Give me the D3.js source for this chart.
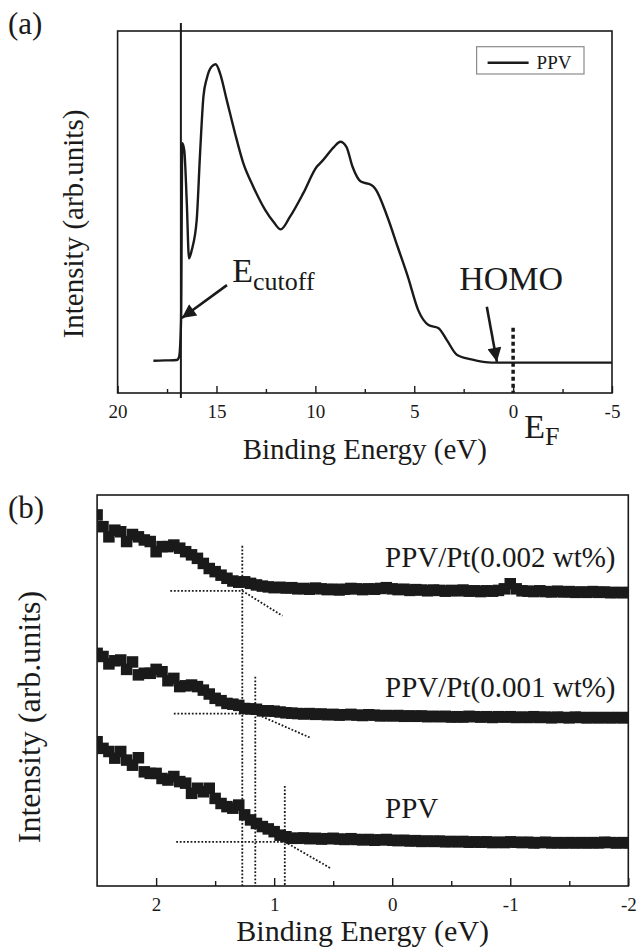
<!DOCTYPE html>
<html>
<head>
<meta charset="utf-8">
<script src="https://cdn.jsdelivr.net/npm/d3@7"></script>
<style>
  body { margin: 0; background: #fff; }
  text { font-family: "Liberation Serif", "DejaVu Serif", serif; fill: #1a1a1a; }
</style>
</head>
<body>
<svg id="fig" width="643" height="950"></svg>
<script>
// ---- data, panel (a): full UPS spectrum of PPV
var energyA = [18.19, 17.6, 17.01, 16.89, 16.79, 16.73, 16.63, 16.5, 16.39, 16.25, 16.0, 15.83, 15.66, 15.49, 15.24, 15.04,
  14.82, 14.48, 14.06, 13.64, 13.14, 12.54, 12.12, 11.75, 11.28, 10.61, 9.93, 9.68, 9.05, 8.74, 8.43, 8.12, 7.7, 7.19,
  6.98, 6.36, 5.84, 5.32, 4.8, 4.28, 3.77, 3.35, 2.83, 2.11, 1.07, -5.0];
var intensityA = [8.9, 9.0, 9.1, 10.0, 20.2, 69.0, 67.1, 52.4, 37.2, 39.5, 47.8, 66.2, 81.9, 86.9, 90.2, 90.8,
  88.3, 80.9, 71.7, 63.4, 57.0, 50.6, 47.3, 45.2, 48.7, 55.2, 62.5, 63.9, 68.0, 69.4, 68.0, 62.5, 58.4, 57.5,
  56.5, 48.7, 40.4, 32.1, 22.9, 18.8, 17.9, 14.6, 10.5, 9.3, 8.4, 8.4];
var ticksA = [20, 15, 10, 5, 0, -5];
var minorA = [17.5, 12.5, 7.5, 2.5, -2.5];
var cutoffEnergy = 16.8;
var fermiEnergy = 0;

// ---- data, panel (b): HOMO onset region
var energyB = [2.5, 2.45, 2.4, 2.35, 2.3, 2.25, 2.2, 2.15, 2.1, 2.05, 2.0, 1.95, 1.9, 1.85, 1.8, 1.75, 1.7, 1.65, 1.6, 1.55,
  1.5, 1.45, 1.4, 1.35, 1.3, 1.25, 1.2, 1.15, 1.1, 1.05, 1.0, 0.95, 0.9, 0.85, 0.8, 0.75, 0.7, 0.65, 0.6, 0.55,
  0.5, 0.45, 0.4, 0.35, 0.3, 0.25, 0.2, 0.15, 0.1, 0.05, 0.0, -0.05, -0.1, -0.15, -0.2, -0.25, -0.3, -0.35, -0.4, -0.45,
  -0.5, -0.55, -0.6, -0.65, -0.7, -0.75, -0.8, -0.85, -0.9, -0.95, -1.0, -1.05, -1.1, -1.15, -1.2, -1.25, -1.3, -1.35, -1.4, -1.45,
  -1.5, -1.55, -1.6, -1.65, -1.7, -1.75, -1.8, -1.85, -1.9, -1.95, -2.0];
var pt002 = [94.9, 91.9, 89.3, 91.0, 90.6, 88.1, 89.9, 89.3, 88.5, 88.1, 85.5, 86.8, 86.8, 87.2, 86.4, 85.5, 84.7, 83.8, 82.5, 81.2,
  80.4, 79.5, 78.7, 78.0, 77.7, 77.8, 77.4, 77.0, 76.7, 76.5, 76.3, 76.4, 76.2, 76.3, 76.0, 76.1, 75.9, 76.2, 76.0, 75.8,
  75.9, 75.7, 75.9, 76.1, 76.0, 75.8, 76.0, 75.9, 76.1, 76.3, 76.0, 75.8, 75.9, 75.6, 75.8, 75.7, 75.5, 75.7, 75.6, 75.4,
  75.6, 75.5, 75.7, 75.4, 75.5, 75.3, 75.5, 75.4, 75.6, 76.0, 77.3, 76.0, 75.5, 75.4, 75.3, 75.5, 75.3, 75.2, 75.4, 75.2,
  75.3, 75.1, 75.2, 75.1, 75.3, 75.1, 75.2, 75.0, 75.1, 75.0, 75.1];
var pt001 = [59.5, 58.7, 56.8, 57.6, 57.8, 55.4, 57.3, 54.0, 54.4, 54.4, 55.4, 54.8, 52.5, 53.1, 51.0, 51.2, 51.4, 51.0, 50.1, 49.1,
  48.0, 47.4, 46.7, 46.5, 46.2, 45.4, 45.3, 45.2, 44.8, 44.8, 44.7, 44.5, 44.3, 44.2, 44.1, 44.0, 44.1, 43.9, 44.0, 43.8,
  43.9, 43.7, 43.8, 43.9, 43.7, 43.6, 43.8, 43.7, 43.5, 43.6, 43.5, 43.6, 43.4, 43.5, 43.4, 43.5, 43.3, 43.4, 43.3, 43.4,
  43.2, 43.3, 43.2, 43.4, 43.3, 43.2, 43.3, 43.1, 43.3, 43.2, 43.3, 43.1, 43.2, 43.1, 43.3, 43.1, 43.2, 43.0, 43.2, 43.1,
  43.0, 43.2, 43.1, 43.0, 43.1, 43.0, 43.1, 43.0, 43.1, 43.0, 43.1];
var ppv = [36.9, 35.2, 34.4, 32.7, 34.4, 32.2, 30.9, 32.8, 29.2, 28.8, 28.8, 27.5, 27.1, 28.0, 26.7, 26.3, 23.7, 25.0, 24.1, 25.0,
  22.4, 21.1, 20.3, 19.9, 20.7, 18.2, 16.9, 16.0, 15.2, 14.6, 13.9, 13.0, 12.6, 12.2, 12.2, 12.3, 12.1, 12.2, 12.0, 12.1,
  12.2, 12.0, 11.9, 12.1, 11.9, 11.8, 11.9, 11.7, 11.8, 11.9, 11.7, 11.6, 11.7, 11.5, 11.6, 11.4, 11.5, 11.4, 11.5, 11.3,
  11.4, 11.3, 11.4, 11.2, 11.3, 11.2, 11.3, 11.1, 11.2, 11.1, 11.3, 11.2, 11.1, 11.2, 11.0, 11.1, 11.2, 11.0, 11.1, 11.0,
  11.1, 11.0, 11.1, 11.0, 11.1, 11.0, 11.2, 11.1, 11.0, 11.1, 11.0];
var seriesNamesB = ["PPV/Pt(0.002 wt%)", "PPV/Pt(0.001 wt%)", "PPV"];
var ticksB = [2, 1, 0, -1, -2];
var minorB = [1.5, 0.5, -0.5, -1.5];
// onset construction lines: energy of onset, top of the vertical guide, baseline level, end of the tangent
var onsetE = [1.27, 1.16, 0.91];
var onsetTop = [87.0, 53.5, 25.6];
var baseLevel = [75.5, 44.1, 11.3];
var baseStart = [1.88, 1.85, 1.83];
var tangentEndE = [0.93, 0.70, 0.52];
var tangentEndV = [69.1, 38.0, 4.5];

var ink = "#1a1a1a";
var serif = '"Liberation Serif", "DejaVu Serif", serif';
var svg = d3.select("#fig");

svg.append("defs").append("marker")
  .attr("id", "head").attr("viewBox", "0 0 10 10")
  .attr("refX", 10).attr("refY", 5)
  .attr("markerWidth", 19).attr("markerHeight", 14)
  .attr("markerUnits", "userSpaceOnUse").attr("orient", "auto")
  .append("path").attr("d", "M0,0L10,5L0,10z").attr("fill", ink);

function bottomAxis(g, x, major, minor, h, majorLen, minorLen) {
  var ax = g.append("g").attr("transform", "translate(0," + h + ")").style("color", ink)
    .call(d3.axisBottom(x).tickValues(major).tickSize(-majorLen).tickPadding(12).tickFormat(function (d) { return String(d); }));
  ax.attr("font-family", null).attr("font-size", null);
  ax.select(".domain").remove();
  ax.selectAll("line").attr("stroke-width", 1.4);
  ax.selectAll("text").style("font-family", serif).style("font-size", "19px").attr("fill", ink);
  var mn = g.append("g").attr("transform", "translate(0," + h + ")").style("color", ink)
    .call(d3.axisBottom(x).tickValues(minor).tickSize(-minorLen).tickFormat(""));
  mn.select(".domain").remove();
  mn.selectAll("line").attr("stroke-width", 1.4);
}

// ================= panel (a)
var boxA = { left: 117.6, top: 31, width: 494.4, height: 362 };
var xA = d3.scaleLinear().domain([20, -5]).range([0, boxA.width]);
var yA = d3.scaleLinear().domain([0, 100]).range([boxA.height, 0]);
var gA = svg.append("g").attr("transform", "translate(" + boxA.left + "," + boxA.top + ")");

svg.append("text").attr("x", 8).attr("y", 34).style("font-size", "31px").text("(a)");

gA.append("rect").attr("width", boxA.width).attr("height", boxA.height)
  .attr("fill", "none").attr("stroke", ink).attr("stroke-width", 1.6);
bottomAxis(gA, xA, ticksA, minorA, boxA.height, 7, 4);

var lineA = d3.line().x(function (d, i) { return xA(energyA[i]); }).y(function (d) { return yA(d); })
  .curve(d3.curveMonotoneX);
gA.append("path").datum(intensityA).attr("d", lineA)
  .attr("fill", "none").attr("stroke", ink).attr("stroke-width", 2.4).attr("stroke-linejoin", "round");

// secondary electron cutoff marker
gA.append("line").attr("x1", xA(cutoffEnergy)).attr("x2", xA(cutoffEnergy))
  .attr("y1", yA(102.2)).attr("y2", yA(-1.4)).attr("stroke", ink).attr("stroke-width", 2);
// Fermi level marker
gA.append("line").attr("x1", xA(fermiEnergy)).attr("x2", xA(fermiEnergy))
  .attr("y1", yA(18)).attr("y2", yA(0)).attr("stroke", ink).attr("stroke-width", 3.5)
  .attr("stroke-dasharray", "4,3");

// arrows
gA.append("line").attr("x1", xA(14.47)).attr("y1", yA(29.8)).attr("x2", xA(16.75)).attr("y2", yA(20.7))
  .attr("stroke", ink).attr("stroke-width", 2.6).attr("marker-end", "url(#head)");
gA.append("line").attr("x1", xA(1.33)).attr("y1", yA(23.8)).attr("x2", xA(0.82)).attr("y2", yA(8.6))
  .attr("stroke", ink).attr("stroke-width", 2.6).attr("marker-end", "url(#head)");

var ecut = gA.append("text").attr("x", xA(14.2)).attr("y", yA(30.8)).style("font-size", "34px");
ecut.append("tspan").text("E");
ecut.append("tspan").style("font-size", "26px").attr("dy", 8).text("cutoff");
gA.append("text").attr("x", xA(2.73)).attr("y", yA(28.5)).style("font-size", "34px").text("HOMO");
var ef = gA.append("text").attr("x", xA(-0.56)).attr("y", boxA.height + 45).style("font-size", "34px");
ef.append("tspan").text("E");
ef.append("tspan").style("font-size", "26px").attr("dy", 7).text("F");

// legend
var leg = gA.append("g").attr("transform", "translate(359,15.7)");
leg.append("rect").attr("width", 107.4).attr("height", 27.3).attr("fill", "#fff")
  .attr("stroke", "#8a8a8a").attr("stroke-width", 1.2);
leg.append("line").attr("x1", 11).attr("x2", 52).attr("y1", 16).attr("y2", 16)
  .attr("stroke", ink).attr("stroke-width", 2.6);
leg.append("text").attr("x", 60).attr("y", 22).style("font-size", "19px").text("PPV");

svg.append("text").attr("x", boxA.left + boxA.width / 2).attr("y", 459).attr("text-anchor", "middle")
  .style("font-size", "29px").text("Binding Energy (eV)");
svg.append("text").attr("transform", "translate(83,224) rotate(-90)").attr("text-anchor", "middle")
  .style("font-size", "29px").text("Intensity (arb.units)");

// ================= panel (b)
var boxB = { left: 97.1, top: 495, width: 531.2, height: 391 };
var xB = d3.scaleLinear().domain([2.5, -2]).range([0, boxB.width]);
var yB = d3.scaleLinear().domain([0, 100]).range([boxB.height, 0]);
var gB = svg.append("g").attr("transform", "translate(" + boxB.left + "," + boxB.top + ")");

svg.append("text").attr("x", 8).attr("y", 518).style("font-size", "31px").text("(b)");

gB.append("clipPath").attr("id", "clipB").append("rect")
  .attr("width", boxB.width).attr("height", boxB.height);

bottomAxis(gB, xB, ticksB, minorB, boxB.height, 8, 5);

// onset construction lines (dotted)
var guides = gB.append("g").attr("stroke", ink).attr("stroke-width", 1.8).attr("stroke-dasharray", "1.8,1.8");
onsetE.forEach(function (e, i) {
  guides.append("line").attr("x1", xB(e)).attr("x2", xB(e)).attr("y1", yB(onsetTop[i])).attr("y2", yB(0));
  guides.append("line").attr("x1", xB(baseStart[i])).attr("x2", xB(e)).attr("y1", yB(baseLevel[i])).attr("y2", yB(baseLevel[i]));
  guides.append("line").attr("x1", xB(e)).attr("y1", yB(baseLevel[i]))
    .attr("x2", xB(tangentEndE[i])).attr("y2", yB(tangentEndV[i]));
});

var sq = 11.5;
var plot = gB.append("g").attr("clip-path", "url(#clipB)");
[pt002, pt001, ppv].forEach(function (series) {
  plot.append("g").selectAll("rect").data(series).join("rect")
    .attr("x", function (d, i) { return xB(energyB[i]) - sq / 2; })
    .attr("y", function (d) { return yB(d) - sq / 2; })
    .attr("width", sq).attr("height", sq).attr("fill", ink);
});

gB.append("rect").attr("width", boxB.width).attr("height", boxB.height)
  .attr("fill", "none").attr("stroke", ink).attr("stroke-width", 1.6);

var labelV = [81.6, 48.3, 17.4];
seriesNamesB.forEach(function (name, i) {
  gB.append("text").attr("x", xB(0.06)).attr("y", yB(labelV[i])).style("font-size", "29px").text(name);
});

svg.append("text").attr("x", boxB.left + boxB.width / 2).attr("y", 941).attr("text-anchor", "middle")
  .style("font-size", "30px").text("Binding Energy (eV)");
svg.append("text").attr("transform", "translate(40,717) rotate(-90)").attr("text-anchor", "middle")
  .style("font-size", "32px").text("Intensity (arb.units)");
</script>
</body>
</html>
